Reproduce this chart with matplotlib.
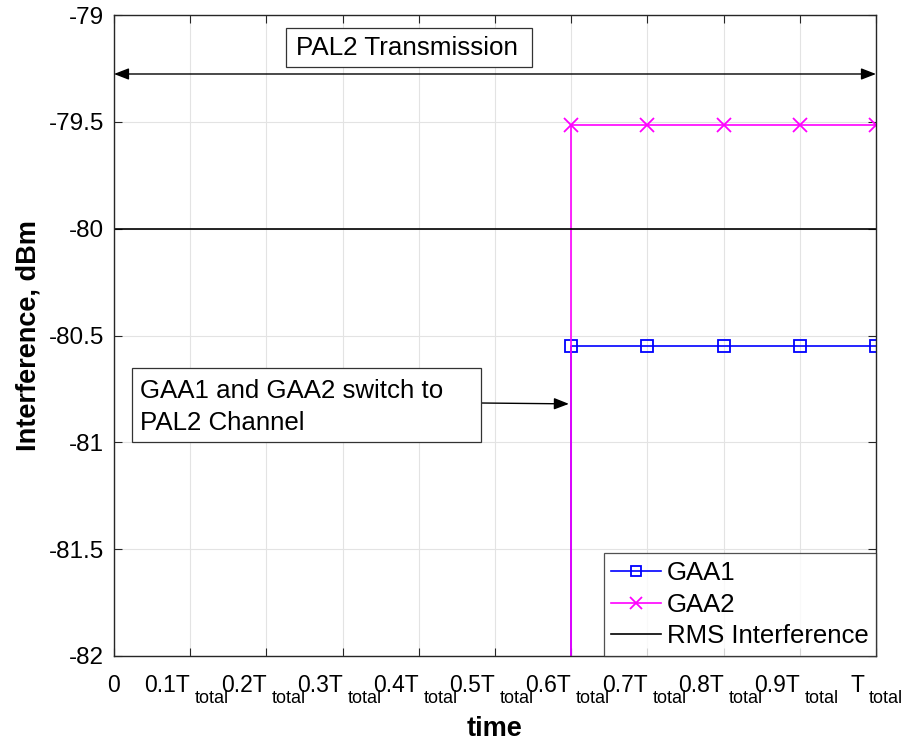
import matplotlib
matplotlib.use("Agg")
import matplotlib.pyplot as plt
import matplotlib.transforms as mtransforms

plt.rcParams['font.family'] = ['Liberation Sans', 'DejaVu Sans']

# time axis in fractions of T_total
tick_pos = [0, 0.1, 0.2, 0.3, 0.4, 0.5, 0.6, 0.7, 0.8, 0.9, 1.0]
tick_main = ['0', '0.1T', '0.2T', '0.3T', '0.4T', '0.5T', '0.6T', '0.7T', '0.8T', '0.9T', 'T']
tick_sub = ['', 'total', 'total', 'total', 'total', 'total', 'total', 'total', 'total',
            'total', 'total']
ytick_pos = [-82, -81.5, -81, -80.5, -80, -79.5, -79]
ytick_txt = ['-82', '-81.5', '-81', '-80.5', '-80', '-79.5', '-79']

# both GAAs come on at 0.6 T_total (off-scale before that)
t_gaa = [0.6, 0.6, 0.7, 0.8, 0.9, 1.0]
gaa1 = [-90, -80.55, -80.55, -80.55, -80.55, -80.55]
gaa2 = [-90, -79.515, -79.515, -79.515, -79.515, -79.515]
t_rms = [0, 1.0]
rms = [-80, -80]

switch_t = 0.6
switch_level = -80.82
pal2_level = -79.276

fig = plt.figure(figsize=(9.04, 7.44), dpi=100)
ax = fig.add_axes([0.1261, 0.1183, 0.8429, 0.8615])

ax.plot(t_gaa, gaa1, color='#0000ff', lw=1.2, marker='s', ms=9, mfc='none',
        mew=1.3, markevery=range(1, 6), label='GAA1')
ax.plot(t_gaa, gaa2, color='#ff00ff', lw=1.2, marker='x', ms=9.5,
        mew=1.3, markevery=range(1, 6), label='GAA2')
ax.plot(t_rms, rms, color='black', lw=1.2, label='RMS Interference')

ax.set_xlim(0, 1)
ax.set_ylim(-82, -79)
ax.set_xticks(tick_pos)
ax.set_xticklabels([])
ax.set_yticks(ytick_pos)
ax.set_yticklabels(ytick_txt)
ax.tick_params(direction='in', length=6, width=0.8, labelsize=17.5, color='#262626',
               top=True, right=True)
ax.tick_params(axis='y', pad=7)
ax.grid(True, color='#e3e3e3', lw=0.8)
ax.set_axisbelow(True)
for s in ax.spines.values():
    s.set_color('#262626')
    s.set_linewidth(1.0)

# x tick labels with a lowered "total" subscript
xtrans = mtransforms.blended_transform_factory(ax.transData, ax.transAxes)
for i, (x, main, sub) in enumerate(zip(tick_pos, tick_main, tick_sub)):
    # last label is pulled in so it stays inside the figure
    nudge = -12 if i == len(tick_pos) - 1 else 0
    main_tr = mtransforms.offset_copy(xtrans, fig=fig, x=nudge, y=0, units='dots')
    sub_tr = mtransforms.offset_copy(xtrans, fig=fig, x=nudge + 5, y=0, units='dots')
    if sub:
        ax.text(x, -0.0562, main, transform=main_tr, fontsize=16.5, ha='right',
                va='baseline', clip_on=False)
        ax.text(x, -0.0733, sub, transform=sub_tr, fontsize=13, ha='left',
                va='baseline', clip_on=False)
    else:
        ax.text(x, -0.0562, main, transform=main_tr, fontsize=16.5, ha='center',
                va='baseline', clip_on=False)

ax.set_xlabel('time', fontsize=19.5, fontweight='bold')
ax.set_ylabel('Interference, dBm', fontsize=19.5, fontweight='bold')
ax.xaxis.set_label_coords(0.5, -0.094)
ax.yaxis.set_label_coords(-0.095, 0.5)

arrow_head = dict(color='black', lw=1.0, shrinkA=0, shrinkB=0, mutation_scale=10)

# PAL2 transmission span
ax.annotate('', xy=(0, pal2_level), xytext=(1, pal2_level),
            arrowprops=dict(arrowstyle='<|-|>,head_length=0.9,head_width=0.35', **arrow_head))
ax.add_patch(plt.Rectangle((0.2257, 0.9189), 0.3229, 0.0608, transform=ax.transAxes,
                           fc='white', ec='#333333', lw=0.9, zorder=4))
ax.text(0.2388, 0.9493, 'PAL2 Transmission', transform=ax.transAxes, fontsize=18.7,
        ha='left', va='center', zorder=5)

# switch annotation
ax.add_patch(plt.Rectangle((0.0236, 0.3339), 0.4580, 0.1154, transform=ax.transAxes,
                           fc='white', ec='#333333', lw=0.9, zorder=4))
ax.text(0.0341, 0.3885, 'GAA1 and GAA2 switch to\nPAL2 Channel', transform=ax.transAxes,
        fontsize=18.6, ha='left', va='center', linespacing=1.45, zorder=5)
ax.annotate('', xy=(switch_t - 0.003, switch_level), xytext=(0.4816, 0.3947),
            textcoords='axes fraction', xycoords='data',
            arrowprops=dict(arrowstyle='-|>,head_length=0.9,head_width=0.35', **arrow_head))

leg = ax.legend(loc='lower right', fontsize=18.5, frameon=True, fancybox=False,
                edgecolor='#262626', borderaxespad=0, handlelength=1.95,
                handletextpad=0.2, labelspacing=0.3, borderpad=0.3, markerscale=0.85)
leg.get_frame().set_linewidth(0.9)

fig.savefig('out.png', dpi=100)
